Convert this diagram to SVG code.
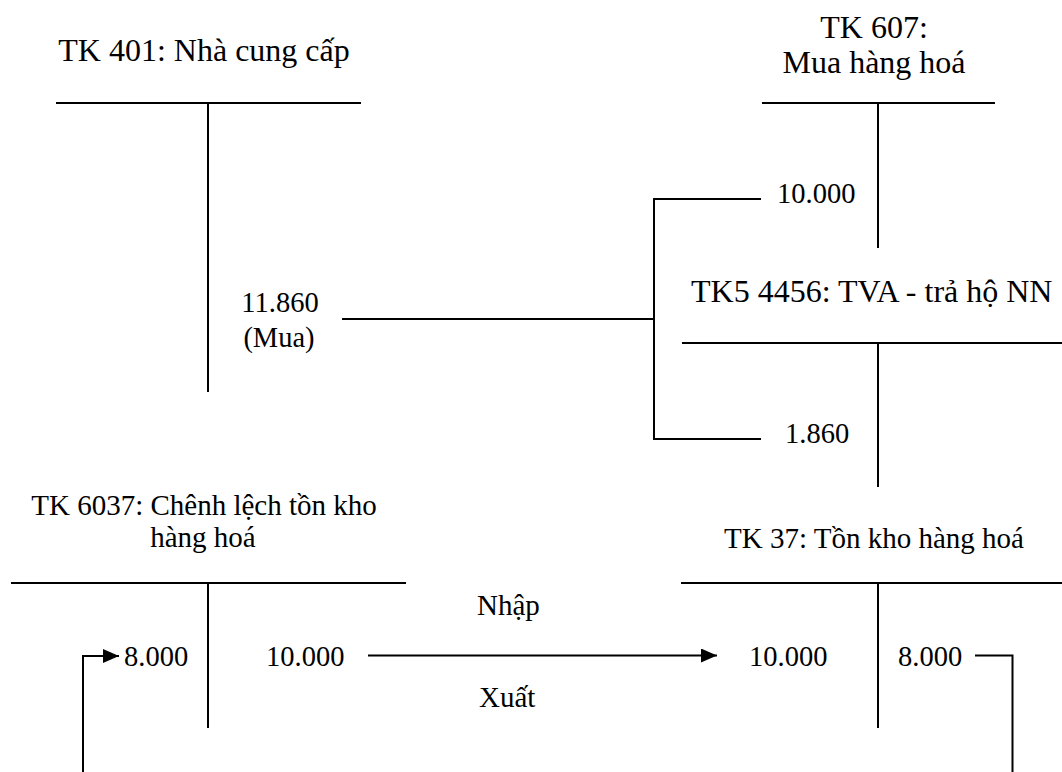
<svg xmlns="http://www.w3.org/2000/svg" width="1062" height="772" viewBox="0 0 1062 772">
<style>
text{font-family:"Liberation Serif","Times New Roman",serif;fill:#000}
.t{font-size:32px}
.s{font-size:29px}
.n{font-size:28.5px}
.m{text-anchor:middle}
line,path{stroke:#000;stroke-width:2;fill:none}
</style>
<defs>
<marker id="ah" markerUnits="userSpaceOnUse" markerWidth="16" markerHeight="14" refX="16" refY="7" orient="auto">
<path d="M0,0 L16,7 L0,14 z" style="fill:#000;stroke:none"/>
</marker>
</defs>
<rect width="1062" height="772" fill="#fff"/>
<g id="tk401">
<text class="t m" x="204" y="61">TK 401: Nhà cung cấp</text>
<line x1="56" y1="103" x2="361" y2="103"/>
<line x1="208" y1="103" x2="208" y2="392"/>
<text class="n m" x="280" y="312">11.860</text>
<text class="n m" x="279" y="347">(Mua)</text>
</g>
<g id="tk607">
<text class="t m" x="874" y="38">TK 607:</text>
<text class="t m" x="874" y="73">Mua hàng hoá</text>
<line x1="762" y1="103" x2="995" y2="103"/>
<line x1="878" y1="103" x2="878" y2="248"/>
<text class="n" x="777" y="203">10.000</text>
</g>
<g id="tk5_4456">
<text class="t" x="691" y="302">TK5 4456: TVA - trả hộ NN</text>
<line x1="682" y1="343" x2="1062" y2="343"/>
<line x1="878" y1="343" x2="878" y2="487"/>
<text class="n" x="785" y="443">1.860</text>
</g>
<g id="tk6037">
<text class="s m" x="204" y="515">TK 6037: Chênh lệch tồn kho</text>
<text class="s m" x="203" y="547">hàng hoá</text>
<line x1="11" y1="583" x2="406" y2="583"/>
<line x1="208" y1="583" x2="208" y2="728"/>
<text class="n" x="124" y="666">8.000</text>
<text class="n" x="266" y="666">10.000</text>
</g>
<g id="tk37">
<text class="s m" x="874" y="548">TK 37: Tồn kho hàng hoá</text>
<line x1="681" y1="583" x2="1062" y2="583"/>
<line x1="878" y1="583" x2="878" y2="728"/>
<text class="n" x="749" y="666">10.000</text>
<text class="n" x="898" y="666">8.000</text>
</g>
<g id="connectors">
<path d="M342,319 H654"/>
<path d="M761,199 H654 V439 H761"/>
<path d="M368,655.5 H717" marker-end="url(#ah)"/>
<text class="s" x="477" y="615">Nhập</text>
<text class="s" x="479" y="707">Xuất</text>
<path d="M975,655.5 H1012.5 V772"/>
<path d="M83,772 V656 H119" marker-end="url(#ah)"/>
</g>
</svg>
